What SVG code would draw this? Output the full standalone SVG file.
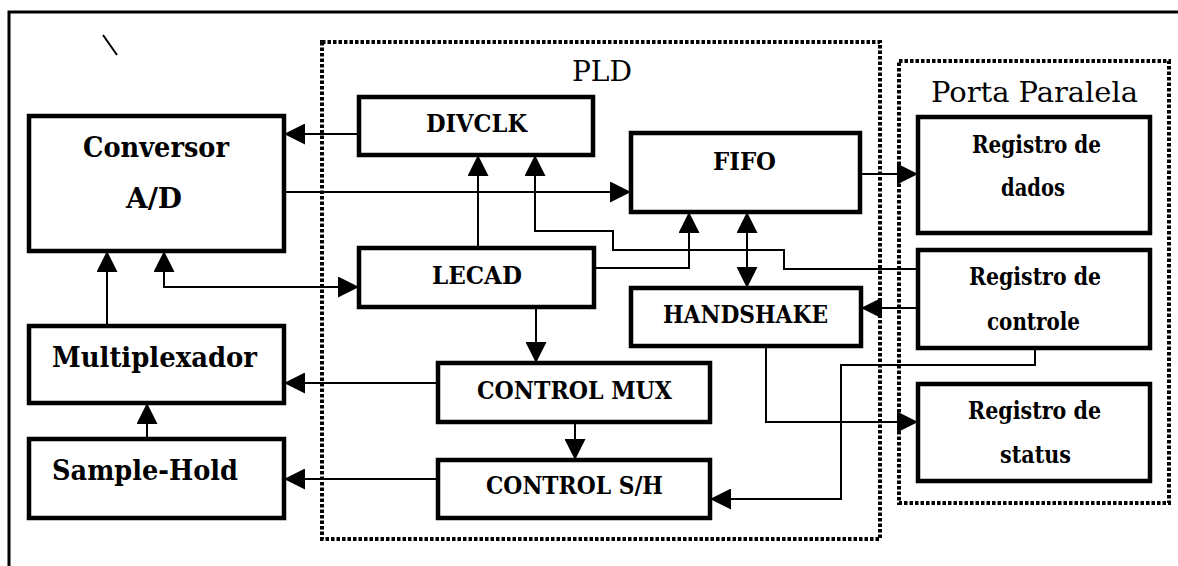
<svg xmlns="http://www.w3.org/2000/svg" width="1178" height="566" viewBox="0 0 1178 566">
<defs>
<marker id="arr" viewBox="0 0 21 21" refX="21" refY="10.5" markerWidth="21" markerHeight="21" markerUnits="userSpaceOnUse" orient="auto-start-reverse">
<path d="M0,0 L21,10.5 L0,21 Z" fill="#000"/>
</marker>
<style>
.box{fill:#fff;stroke:#000;stroke-width:4.5}
.grp{fill:none;stroke:#000;stroke-width:4;stroke-dasharray:3.5 2}
.frame{fill:none;stroke:#000;stroke-width:3}
.c{fill:none;stroke:#000;stroke-width:2}
.a{marker-end:url(#arr)}
.aa{marker-start:url(#arr);marker-end:url(#arr)}
text{font-family:"DejaVu Serif","Liberation Serif",serif;fill:#000}
.b{font-size:25px;font-weight:bold}
.m{font-size:28px;font-weight:bold}
.r{font-size:28px;font-weight:normal}
</style>
</defs>
<rect width="1178" height="566" fill="#fff"/>
<path class="frame" d="M9,566 V12 H1178"/>
<line x1="103" y1="35" x2="117" y2="55" stroke="#000" stroke-width="2"/>

<g id="pld">
<rect class="grp" x="322" y="42" width="558" height="497"/>
<text class="r" x="572" y="81" textLength="60" lengthAdjust="spacingAndGlyphs">PLD</text>
</g>
<g id="porta">
<rect class="grp" x="899" y="61" width="270" height="442"/>
<text class="r" x="931" y="102" textLength="207" lengthAdjust="spacingAndGlyphs">Porta Paralela</text>
</g>

<g id="connectors">
<path class="c a" d="M359,134 H284"/>
<path class="c a" d="M284,192 H631"/>
<path class="c a" d="M860,174 H918"/>
<path class="c a" d="M478,248 V155"/>
<path class="c a" d="M918,269 H784 V250 H613 V231 H535 V155"/>
<path class="c a" d="M594,268 H689 V212"/>
<path class="c aa" d="M747,212 V288"/>
<path class="c a" d="M918,308 H861"/>
<path class="c a" d="M766,346 V422 H918"/>
<path class="c a" d="M1035,348 V365 H841 V499 H710"/>
<path class="c a" d="M536,307 V363"/>
<path class="c a" d="M438,383 H284"/>
<path class="c a" d="M575,422 V460"/>
<path class="c a" d="M438,479 H284"/>
<path class="c a" d="M147,439 V403"/>
<path class="c a" d="M107,326 V251"/>
<path class="c aa" d="M164,251 V287 H359"/>
</g>

<g id="conversor">
<rect class="box" x="29" y="116" width="255" height="135"/>
<text class="m" x="83" y="157" textLength="146" lengthAdjust="spacingAndGlyphs">Conversor</text>
<text class="m" x="126" y="208" textLength="56" lengthAdjust="spacingAndGlyphs">A/D</text>
</g>
<g id="multiplexador">
<rect class="box" x="29" y="326" width="255" height="77"/>
<text class="m" x="52" y="367" textLength="205" lengthAdjust="spacingAndGlyphs">Multiplexador</text>
</g>
<g id="samplehold">
<rect class="box" x="29" y="439" width="255" height="79"/>
<text class="m" x="52" y="480" textLength="186" lengthAdjust="spacingAndGlyphs">Sample-Hold</text>
</g>
<g id="divclk">
<rect class="box" x="359" y="97" width="234" height="58"/>
<text class="b" x="426" y="132" textLength="101" lengthAdjust="spacingAndGlyphs">DIVCLK</text>
</g>
<g id="lecad">
<rect class="box" x="359" y="248" width="235" height="59"/>
<text class="b" x="432" y="284" textLength="90" lengthAdjust="spacingAndGlyphs">LECAD</text>
</g>
<g id="fifo">
<rect class="box" x="631" y="133" width="229" height="79"/>
<text class="b" x="713" y="170" textLength="63" lengthAdjust="spacingAndGlyphs">FIFO</text>
</g>
<g id="handshake">
<rect class="box" x="631" y="288" width="230" height="58"/>
<text class="b" x="663" y="323" textLength="165" lengthAdjust="spacingAndGlyphs">HANDSHAKE</text>
</g>
<g id="controlmux">
<rect class="box" x="438" y="363" width="272" height="59"/>
<text class="b" x="477" y="399" textLength="195" lengthAdjust="spacingAndGlyphs">CONTROL MUX</text>
</g>
<g id="controlsh">
<rect class="box" x="438" y="460" width="272" height="58"/>
<text class="b" x="486" y="494" textLength="177" lengthAdjust="spacingAndGlyphs">CONTROL S/H</text>
</g>
<g id="regdados">
<rect class="box" x="918" y="117" width="232" height="116"/>
<text class="b" x="972" y="153" textLength="129" lengthAdjust="spacingAndGlyphs">Registro de</text>
<text class="b" x="1001" y="196" textLength="64" lengthAdjust="spacingAndGlyphs">dados</text>
</g>
<g id="regcontrole">
<rect class="box" x="918" y="250" width="232" height="98"/>
<text class="b" x="969" y="285" textLength="132" lengthAdjust="spacingAndGlyphs">Registro de</text>
<text class="b" x="987" y="330" textLength="93" lengthAdjust="spacingAndGlyphs">controle</text>
</g>
<g id="regstatus">
<rect class="box" x="918" y="384" width="232" height="97"/>
<text class="b" x="968" y="419" textLength="133" lengthAdjust="spacingAndGlyphs">Registro de</text>
<text class="b" x="1000" y="463" textLength="71" lengthAdjust="spacingAndGlyphs">status</text>
</g>
</svg>
